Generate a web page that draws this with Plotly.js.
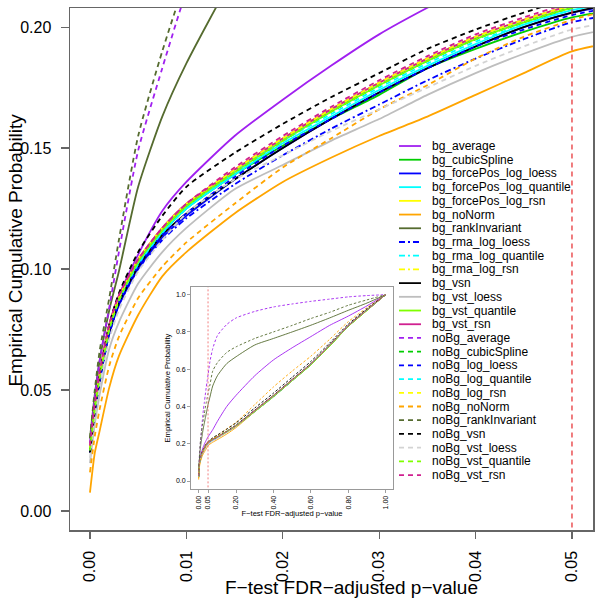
<!DOCTYPE html>
<html>
<head>
<meta charset="utf-8">
<script src="https://cdn.plot.ly/plotly-3.0.1.min.js"></script>
<style>html,body{margin:0;padding:0;background:#fff;}#chart{width:600px;height:600px;}</style>
</head>
<body>
<div id="chart"></div>
<script>
// F-test FDR-adjusted p-value grid (x) at which each empirical CDF was read
const pvalGrid = [0, 0.0005, 0.001, 0.002, 0.003, 0.005, 0.0075, 0.01, 0.015, 0.02, 0.025, 0.03, 0.035, 0.04, 0.045, 0.05, 0.06, 0.075, 0.1, 0.15, 0.2, 0.3, 0.4, 0.5, 0.6, 0.7, 0.8, 0.9, 1.0];

// Empirical cumulative probability for each method
const bg_average =               [0.025, 0.043, 0.056, 0.077, 0.089, 0.106, 0.124, 0.136, 0.155, 0.170, 0.184, 0.197, 0.208, 0.218, 0.228, 0.237, 0.252, 0.275, 0.320, 0.400, 0.460, 0.565, 0.650, 0.715, 0.775, 0.835, 0.885, 0.940, 1.0];
const bg_cubicSpline =           [0.025, 0.042, 0.055, 0.075, 0.087, 0.102, 0.115, 0.125, 0.139, 0.151, 0.162, 0.172, 0.183, 0.191, 0.198, 0.204, 0.211, 0.221, 0.234, 0.263, 0.295, 0.372, 0.452, 0.538, 0.624, 0.724, 0.830, 0.916, 1.0];
const bg_forcePos_log_loess =    [0.024, 0.040, 0.053, 0.073, 0.085, 0.100, 0.113, 0.122, 0.137, 0.150, 0.162, 0.173, 0.183, 0.192, 0.200, 0.206, 0.213, 0.223, 0.236, 0.266, 0.299, 0.378, 0.458, 0.543, 0.628, 0.728, 0.833, 0.918, 1.0];
const bg_forcePos_log_quantile = [0.025, 0.042, 0.055, 0.075, 0.087, 0.102, 0.115, 0.125, 0.139, 0.152, 0.163, 0.174, 0.184, 0.193, 0.201, 0.207, 0.214, 0.224, 0.237, 0.267, 0.299, 0.377, 0.456, 0.541, 0.626, 0.726, 0.832, 0.918, 1.0];
const bg_forcePos_log_rsn =      [0.026, 0.043, 0.056, 0.076, 0.088, 0.103, 0.116, 0.126, 0.141, 0.154, 0.166, 0.177, 0.187, 0.196, 0.203, 0.209, 0.215, 0.225, 0.237, 0.266, 0.298, 0.377, 0.457, 0.542, 0.627, 0.727, 0.832, 0.918, 1.0];
const bg_noNorm =                [0.0076, 0.024, 0.033, 0.051, 0.064, 0.081, 0.097, 0.107, 0.123, 0.136, 0.146, 0.155, 0.163, 0.172, 0.181, 0.190, 0.198, 0.208, 0.222, 0.252, 0.287, 0.372, 0.455, 0.540, 0.625, 0.725, 0.830, 0.916, 1.0];
const bg_rankInvariant =         [0.030, 0.048, 0.062, 0.083, 0.099, 0.134, 0.163, 0.185, 0.222, 0.255, 0.285, 0.310, 0.335, 0.360, 0.385, 0.410, 0.450, 0.510, 0.565, 0.630, 0.667, 0.730, 0.765, 0.800, 0.836, 0.875, 0.916, 0.955, 1.0];
const bg_rma_log_loess =         [0.024, 0.040, 0.053, 0.073, 0.085, 0.100, 0.112, 0.121, 0.135, 0.147, 0.158, 0.168, 0.178, 0.187, 0.195, 0.202, 0.209, 0.219, 0.232, 0.262, 0.294, 0.372, 0.452, 0.538, 0.624, 0.724, 0.830, 0.916, 1.0];
const bg_rma_log_quantile =      [0.025, 0.042, 0.055, 0.075, 0.087, 0.102, 0.115, 0.125, 0.140, 0.153, 0.165, 0.176, 0.186, 0.195, 0.202, 0.208, 0.215, 0.225, 0.237, 0.266, 0.298, 0.377, 0.457, 0.542, 0.627, 0.727, 0.832, 0.918, 1.0];
const bg_rma_log_rsn =           [0.026, 0.043, 0.056, 0.076, 0.088, 0.104, 0.117, 0.127, 0.141, 0.154, 0.166, 0.177, 0.187, 0.196, 0.203, 0.209, 0.216, 0.226, 0.238, 0.267, 0.299, 0.378, 0.458, 0.543, 0.628, 0.728, 0.833, 0.918, 1.0];
const bg_vsn =                   [0.0245, 0.041, 0.054, 0.074, 0.086, 0.101, 0.114, 0.123, 0.137, 0.150, 0.162, 0.173, 0.183, 0.192, 0.200, 0.206, 0.214, 0.224, 0.237, 0.267, 0.300, 0.380, 0.460, 0.545, 0.630, 0.730, 0.835, 0.920, 1.0];
const bg_vst_loess =             [0.0198, 0.036, 0.048, 0.067, 0.078, 0.094, 0.107, 0.117, 0.133, 0.143, 0.153, 0.162, 0.172, 0.181, 0.189, 0.196, 0.204, 0.215, 0.229, 0.260, 0.293, 0.372, 0.453, 0.539, 0.625, 0.725, 0.831, 0.917, 1.0];
const bg_vst_quantile =          [0.026, 0.043, 0.056, 0.076, 0.088, 0.103, 0.116, 0.126, 0.140, 0.153, 0.165, 0.176, 0.186, 0.195, 0.202, 0.208, 0.214, 0.223, 0.235, 0.263, 0.295, 0.373, 0.453, 0.538, 0.623, 0.723, 0.829, 0.915, 1.0];
const bg_vst_rsn =               [0.0266, 0.044, 0.057, 0.077, 0.089, 0.104, 0.117, 0.127, 0.141, 0.154, 0.166, 0.177, 0.187, 0.196, 0.203, 0.209, 0.215, 0.224, 0.236, 0.265, 0.297, 0.378, 0.458, 0.543, 0.628, 0.728, 0.833, 0.918, 1.0];
const noBg_average =             [0.028, 0.047, 0.062, 0.084, 0.107, 0.149, 0.183, 0.215, 0.270, 0.330, 0.380, 0.420, 0.460, 0.500, 0.535, 0.570, 0.640, 0.710, 0.780, 0.840, 0.875, 0.910, 0.934, 0.950, 0.964, 0.976, 0.988, 0.995, 1.0];
const noBg_cubicSpline =         [0.025, 0.042, 0.055, 0.075, 0.087, 0.103, 0.116, 0.126, 0.140, 0.153, 0.165, 0.176, 0.186, 0.195, 0.202, 0.208, 0.215, 0.225, 0.237, 0.266, 0.298, 0.377, 0.457, 0.542, 0.627, 0.727, 0.832, 0.918, 1.0];
const noBg_log_loess =           [0.024, 0.041, 0.054, 0.074, 0.086, 0.101, 0.114, 0.123, 0.138, 0.151, 0.162, 0.173, 0.183, 0.192, 0.199, 0.205, 0.212, 0.222, 0.235, 0.265, 0.298, 0.377, 0.457, 0.542, 0.627, 0.727, 0.832, 0.918, 1.0];
const noBg_log_quantile =        [0.025, 0.042, 0.055, 0.075, 0.087, 0.102, 0.115, 0.125, 0.140, 0.153, 0.164, 0.175, 0.185, 0.194, 0.201, 0.207, 0.214, 0.224, 0.236, 0.266, 0.299, 0.378, 0.458, 0.543, 0.628, 0.728, 0.833, 0.918, 1.0];
const noBg_log_rsn =             [0.026, 0.043, 0.056, 0.076, 0.088, 0.104, 0.117, 0.127, 0.141, 0.154, 0.166, 0.177, 0.187, 0.196, 0.203, 0.209, 0.216, 0.226, 0.238, 0.267, 0.300, 0.379, 0.459, 0.544, 0.629, 0.729, 0.834, 0.919, 1.0];
const noBg_noNorm =              [0.016, 0.031, 0.042, 0.060, 0.072, 0.088, 0.101, 0.111, 0.127, 0.142, 0.154, 0.166, 0.176, 0.187, 0.196, 0.203, 0.213, 0.226, 0.243, 0.280, 0.315, 0.410, 0.505, 0.590, 0.670, 0.760, 0.855, 0.930, 1.0];
const noBg_rankInvariant =       [0.030, 0.050, 0.066, 0.088, 0.112, 0.155, 0.190, 0.220, 0.265, 0.300, 0.330, 0.360, 0.390, 0.420, 0.445, 0.470, 0.515, 0.590, 0.635, 0.690, 0.720, 0.765, 0.800, 0.835, 0.872, 0.905, 0.943, 0.972, 1.0];
const noBg_vsn =                 [0.024, 0.042, 0.056, 0.077, 0.090, 0.107, 0.122, 0.134, 0.148, 0.160, 0.171, 0.181, 0.191, 0.199, 0.206, 0.212, 0.220, 0.232, 0.247, 0.278, 0.312, 0.392, 0.472, 0.557, 0.642, 0.740, 0.842, 0.925, 1.0];
const noBg_vst_loess =           [0.022, 0.039, 0.052, 0.071, 0.083, 0.099, 0.112, 0.123, 0.137, 0.147, 0.157, 0.166, 0.175, 0.184, 0.192, 0.199, 0.206, 0.217, 0.231, 0.262, 0.295, 0.375, 0.455, 0.540, 0.626, 0.726, 0.832, 0.918, 1.0];
const noBg_vst_quantile =        [0.025, 0.042, 0.055, 0.075, 0.087, 0.103, 0.116, 0.126, 0.140, 0.153, 0.165, 0.176, 0.186, 0.195, 0.202, 0.208, 0.214, 0.224, 0.236, 0.264, 0.296, 0.374, 0.454, 0.539, 0.624, 0.724, 0.830, 0.916, 1.0];
const noBg_vst_rsn =             [0.027, 0.044, 0.057, 0.077, 0.089, 0.104, 0.117, 0.127, 0.142, 0.155, 0.167, 0.178, 0.188, 0.197, 0.204, 0.210, 0.216, 0.225, 0.237, 0.266, 0.298, 0.378, 0.458, 0.543, 0.628, 0.728, 0.833, 0.918, 1.0];

const seriesNames = ["bg_average", "bg_cubicSpline", "bg_forcePos_log_loess", "bg_forcePos_log_quantile", "bg_forcePos_log_rsn", "bg_noNorm", "bg_rankInvariant", "bg_rma_log_loess", "bg_rma_log_quantile", "bg_rma_log_rsn", "bg_vsn", "bg_vst_loess", "bg_vst_quantile", "bg_vst_rsn", "noBg_average", "noBg_cubicSpline", "noBg_log_loess", "noBg_log_quantile", "noBg_log_rsn", "noBg_noNorm", "noBg_rankInvariant", "noBg_vsn", "noBg_vst_loess", "noBg_vst_quantile", "noBg_vst_rsn"];
const seriesValues = [bg_average, bg_cubicSpline, bg_forcePos_log_loess, bg_forcePos_log_quantile, bg_forcePos_log_rsn, bg_noNorm, bg_rankInvariant, bg_rma_log_loess, bg_rma_log_quantile, bg_rma_log_rsn, bg_vsn, bg_vst_loess, bg_vst_quantile, bg_vst_rsn, noBg_average, noBg_cubicSpline, noBg_log_loess, noBg_log_quantile, noBg_log_rsn, noBg_noNorm, noBg_rankInvariant, noBg_vsn, noBg_vst_loess, noBg_vst_quantile, noBg_vst_rsn];
const seriesColors = ["#A020F0", "#00CD00", "#0000FF", "#00FFFF", "#FFFF00", "#FFA500", "#556B2F", "#0000FF", "#00FFFF", "#FFFF00", "#000000", "#BEBEBE", "#7FFF00", "#D02090", "#A020F0", "#00CD00", "#0000FF", "#00FFFF", "#FFFF00", "#FFA500", "#556B2F", "#000000", "#D3D3D3", "#7FFF00", "#D02090"];
const seriesLineType = ["solid", "solid", "solid", "solid", "solid", "solid", "solid", "dotdash", "dotdash", "dotdash", "solid", "solid", "solid", "solid", "dashed", "dashed", "dashed", "dashed", "dashed", "dashed", "dashed", "dashed", "dashed", "dashed", "dashed"];

const fdrCutoff = 0.05;

const xTitle = "F\u2212test FDR\u2212adjusted p\u2212value";
const yTitle = "Empirical Cumulative Probability";

const mainDash = {solid: "solid", dashed: "5px,4px", dotdash: "6px,3px,2px,3px"};
const insetDash = {solid: "solid", dashed: "2.5px,2px", dotdash: "3px,1.5px,1px,1.5px"};

const FONT = "Arial, 'Liberation Sans', sans-serif";
const traces = [];

// main panel (zoomed view)
seriesValues.forEach((vals, i) => {
  traces.push({type: "scatter", mode: "lines", x: pvalGrid, y: vals, xaxis: "x", yaxis: "y",
    name: seriesNames[i], showlegend: false, hoverinfo: "skip",
    line: {color: seriesColors[i], width: 1.8, dash: mainDash[seriesLineType[i]], shape: "spline", smoothing: 0.6}});
});
traces.push({type: "scatter", mode: "lines", x: [fdrCutoff, fdrCutoff], y: [-1, 2], xaxis: "x", yaxis: "y",
  showlegend: false, hoverinfo: "skip", line: {color: "#E8383B", width: 1.3, dash: "5px,4px"}});

// inset panel (full range)
seriesValues.forEach((vals, i) => {
  traces.push({type: "scatter", mode: "lines", x: pvalGrid, y: vals, xaxis: "x2", yaxis: "y2",
    name: seriesNames[i], showlegend: false, hoverinfo: "skip",
    line: {color: seriesColors[i], width: 0.9, dash: insetDash[seriesLineType[i]], shape: "spline", smoothing: 0.6}});
});
traces.push({type: "scatter", mode: "lines", x: [fdrCutoff, fdrCutoff], y: [-1, 2], xaxis: "x2", yaxis: "y2",
  showlegend: false, hoverinfo: "skip", line: {color: "#F06060", width: 0.8, dash: "2px,2px"}});

// legend panel (R-style legend: line sample + label)
const annotations = [];
seriesNames.forEach((nm, i) => {
  traces.push({type: "scatter", mode: "lines", x: [4, 26], y: [i, i], xaxis: "x3", yaxis: "y3",
    showlegend: false, hoverinfo: "skip",
    line: {color: seriesColors[i], width: 1.8, dash: mainDash[seriesLineType[i]]}});
  annotations.push({xref: "x3", yref: "y3", x: 35, y: i, text: nm, showarrow: false,
    xanchor: "left", yanchor: "middle", font: {family: FONT, size: 12, color: "#000"}});
});

// main axis titles (placed like the R device layout)
annotations.push({xref: "paper", yref: "paper", x: 0.539, y: -0.111, text: xTitle, showarrow: false,
  xanchor: "center", yanchor: "middle", font: {family: FONT, size: 19, color: "#000"}});
annotations.push({xref: "paper", yref: "paper", x: -0.105, y: 0.5354, text: yTitle, showarrow: false, textangle: -90,
  xanchor: "center", yanchor: "middle", font: {family: FONT, size: 19, color: "#000"}});

const frame = "#666666";
const layout = {
  width: 600, height: 600,
  margin: {l: 70, r: 7, t: 8, b: 70},
  paper_bgcolor: "#ffffff", plot_bgcolor: "#ffffff",
  showlegend: false,
  font: {family: FONT, color: "#000"},
  xaxis: {domain: [0, 1], range: [-0.00207, 0.05218], tickvals: [0, 0.01, 0.02, 0.03, 0.04, 0.05],
    ticktext: ["0.00", "0.01", "0.02", "0.03", "0.04", "0.05"], tickangle: -90,
    ticks: "outside", ticklen: 7, tickcolor: frame, tickwidth: 1.2, ticklabelstandoff: 6,
    showline: true, mirror: true, linecolor: frame, linewidth: 1.5, showgrid: false, zeroline: false,
    tickfont: {size: 16}},
  yaxis: {domain: [0, 1], range: [-0.00785, 0.2079], tickvals: [0, 0.05, 0.1, 0.15, 0.2],
    ticktext: ["0.00", "0.05", "0.10", "0.15", "0.20"],
    ticks: "outside", ticklen: 8, tickcolor: frame, tickwidth: 1.2, ticklabelstandoff: 6,
    showline: true, mirror: true, linecolor: frame, linewidth: 1.5, showgrid: false, zeroline: false,
    tickfont: {size: 16}},
  xaxis2: {domain: [0.2314, 0.6176], anchor: "y2", range: [-0.041, 1.039],
    tickvals: [0, 0.05, 0.2, 0.4, 0.6, 0.8, 1.0], ticktext: ["0.00", "0.05", "0.20", "0.40", "0.60", "0.80", "1.00"],
    tickangle: -90, ticks: "outside", ticklen: 3, tickcolor: "#888", tickwidth: 0.8,
    showline: true, mirror: true, linecolor: "#999", linewidth: 1, showgrid: false, zeroline: false,
    tickfont: {size: 7}, title: {text: xTitle, font: {size: 7.6}, standoff: 2}},
  yaxis2: {domain: [0.0785, 0.4655], anchor: "x2", range: [-0.043, 1.041],
    tickvals: [0, 0.2, 0.4, 0.6, 0.8, 1.0], ticktext: ["0.0", "0.2", "0.4", "0.6", "0.8", "1.0"],
    ticks: "outside", ticklen: 3, tickcolor: "#888", tickwidth: 0.8,
    showline: true, mirror: true, linecolor: "#999", linewidth: 1, showgrid: false, zeroline: false,
    tickfont: {size: 7}, title: {text: yTitle, font: {size: 7.6}, standoff: 4}},
  xaxis3: {domain: [0.6214, 0.9465], anchor: "y3", range: [0, 170], visible: false, fixedrange: true},
  yaxis3: {domain: [0.09195, 0.7471], anchor: "x3", range: [24.507, -0.4376], visible: false, fixedrange: true},
  annotations: annotations
};

Plotly.newPlot("chart", traces, layout, {staticPlot: true, displayModeBar: false});
</script>
</body>
</html>
